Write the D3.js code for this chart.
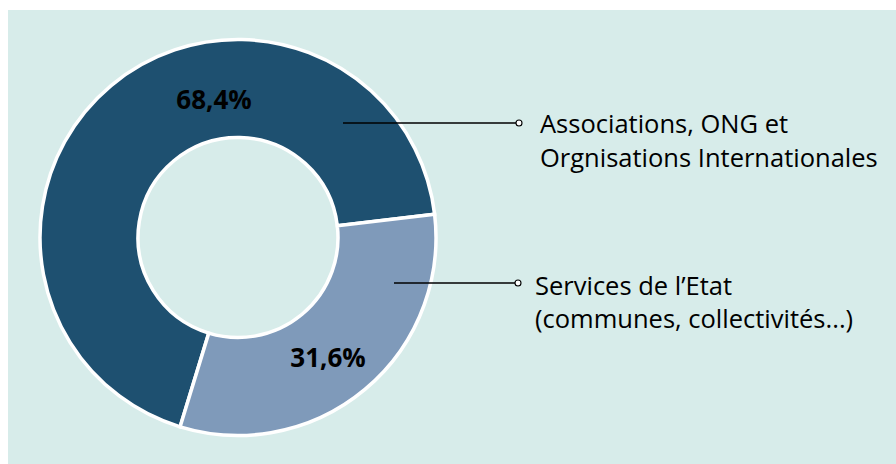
<!DOCTYPE html>
<html><head><meta charset="utf-8">
<script src="https://cdn.jsdelivr.net/npm/d3@7"></script>
<style>html,body{margin:0;padding:0;background:#fff}</style>
</head><body><svg id="c" width="896" height="464"></svg>
<script>
const categories = ["Associations, ONG et|Orgnisations Internationales", "Services de l’Etat|(communes, collectivités...)"];
const values = [68.4, 31.6];
const valueLabels = ["68,4%", "31,6%"];
const colors = ["#1e5070", "#7f9aba"];

const svg = d3.select("#c");
svg.append("rect").attr("x",8).attr("y",10).attr("width",888).attr("height",454).attr("fill","#d7ecea");

const cx = 238, cy = 237.5, R = 198, r = 100;
const g = svg.append("g").attr("transform",`translate(${cx},${cy})`);
const pie = d3.pie().sort(null).value(d=>d).startAngle(197*Math.PI/180).endAngle(197*Math.PI/180+2*Math.PI);
const arcs = pie(values);
const arc = d3.arc().innerRadius(r).outerRadius(R);
g.selectAll("path").data(arcs).join("path")
  .attr("d",arc).attr("fill",(d,i)=>colors[i])
  .attr("stroke","#fff").attr("stroke-width",3.5).attr("stroke-linejoin","miter");

const font = "'Open Sans', sans-serif";
// percent labels
const labelPos = [[214-cx,109-cy],[328-cx,367-cy]];
g.selectAll("text.v").data(arcs).join("text").attr("class","v")
  .attr("x",(d,i)=>labelPos[i][0]).attr("y",(d,i)=>labelPos[i][1])
  .attr("text-anchor","middle").attr("font-family",font).attr("font-weight",700)
  .attr("font-size",26).attr("fill","#000").text((d,i)=>valueLabels[i]);

// leaders
const leaders = [{x1:343,y:123,x2:519,tx:540,ty:[133,167]},{x1:394,y:283,x2:518,tx:535,ty:[295,328]}];
leaders.forEach((L,i)=>{
  svg.append("line").attr("x1",L.x1).attr("x2",L.x2-3).attr("y1",L.y).attr("y2",L.y)
    .attr("stroke","#000").attr("stroke-width",1.4);
  svg.append("circle").attr("cx",L.x2).attr("cy",L.y).attr("r",3).attr("fill","#fff")
    .attr("stroke","#000").attr("stroke-width",1.1);
  const lines = categories[i].split("|");
  const t = svg.append("text").attr("font-family",font).attr("font-size",25.5).attr("fill","#000");
  lines.forEach((s,j)=>t.append("tspan").attr("x",L.tx).attr("y",L.ty[j]).text(s));
});
</script></body></html>
